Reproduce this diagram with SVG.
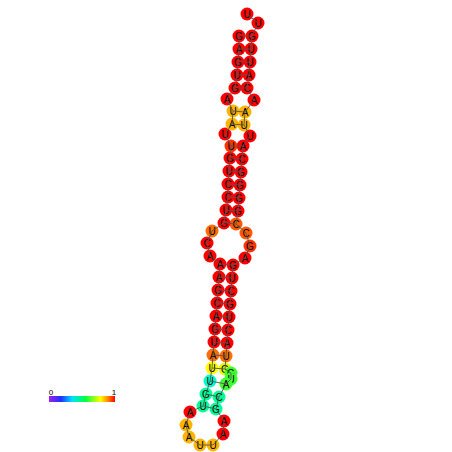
<svg xmlns="http://www.w3.org/2000/svg" width="452" height="452" viewBox="0 0 452 452">
<defs>
<linearGradient id="lg" x1="0" y1="0" x2="1" y2="0">
<stop offset="0" stop-color="#a020f0"/>
<stop offset="0.18" stop-color="#2030ff"/>
<stop offset="0.35" stop-color="#00e0ff"/>
<stop offset="0.55" stop-color="#00ff40"/>
<stop offset="0.78" stop-color="#ffff00"/>
<stop offset="0.9" stop-color="#ff8000"/>
<stop offset="1" stop-color="#ff0000"/>
</linearGradient>
<style>
.n circle{stroke:none}
text{font-family:"Liberation Sans",Arial,sans-serif;font-size:10px;fill:#000;text-anchor:middle;dominant-baseline:central}
.bb line,.bb polyline{stroke:#555;stroke-width:0.9;fill:none}
.r{fill:#ff0000}.o1{fill:#ff3300}.o2{fill:#ff5a00}.o3{fill:#ff6e00}.g{fill:#ffb400}.y{fill:#ffff00}.yg{fill:#e0ff00}.gr{fill:#40ff30}.c1{fill:#00ffcc}.c2{fill:#00ff99}
</style>
</defs>
<rect width="452" height="452" fill="#fff"/>
<g id="nodes">
<g id="n1" class="n"><circle class="r" cx="247" cy="14" r="6.5"/><text x="247" y="14">U</text></g>
<g id="n2" class="n"><circle class="r" cx="258" cy="23" r="6.5"/><text x="258" y="23">U</text></g>
<g id="n3" class="n"><circle class="r" cx="252" cy="36" r="6.5"/><text x="252" y="36">G</text></g>
<g id="n4" class="n"><circle class="r" cx="251" cy="49" r="6.5"/><text x="251" y="49">U</text></g>
<g id="n5" class="n"><circle class="r" cx="250" cy="62" r="6.5"/><text x="250" y="62">U</text></g>
<g id="n6" class="n"><circle class="r" cx="249" cy="75" r="6.5"/><text x="249" y="75">A</text></g>
<g id="n7" class="n"><circle class="r" cx="247" cy="88" r="6.5"/><text x="247" y="88">C</text></g>
<g id="n8" class="n"><circle class="r" cx="254" cy="100" r="6.5"/><text x="254" y="100">A</text></g>
<g id="n9" class="n"><circle class="g" cx="245" cy="112" r="6.5"/><text x="245" y="112">A</text></g>
<g id="n10" class="n"><circle class="g" cx="244" cy="125" r="6.5"/><text x="244" y="125">U</text></g>
<g id="n11" class="n"><circle class="r" cx="250" cy="136" r="6.5"/><text x="250" y="136">U</text></g>
<g id="n12" class="n"><circle class="r" cx="243" cy="146" r="6.5"/><text x="243" y="146">A</text></g>
<g id="n13" class="n"><circle class="r" cx="242" cy="159" r="6.5"/><text x="242" y="159">C</text></g>
<g id="n14" class="n"><circle class="r" cx="241" cy="172" r="6.5"/><text x="241" y="172">G</text></g>
<g id="n15" class="n"><circle class="r" cx="240" cy="185" r="6.5"/><text x="240" y="185">G</text></g>
<g id="n16" class="n"><circle class="r" cx="239" cy="198" r="6.5"/><text x="239" y="198">G</text></g>
<g id="n17" class="n"><circle class="r" cx="238" cy="211" r="6.5"/><text x="238" y="211">G</text></g>
<g id="n18" class="n"><circle class="o2" cx="236" cy="224" r="6.5"/><text x="236" y="224">C</text></g>
<g id="n19" class="n"><circle class="o2" cx="246" cy="233" r="6.5"/><text x="246" y="233">C</text></g>
<g id="n20" class="n"><circle class="o1" cx="250" cy="246" r="6.5"/><text x="250" y="246">G</text></g>
<g id="n21" class="n"><circle class="r" cx="245" cy="258" r="6.5"/><text x="245" y="258">A</text></g>
<g id="n22" class="n"><circle class="r" cx="233" cy="265" r="6.5"/><text x="233" y="265">G</text></g>
<g id="n23" class="n"><circle class="r" cx="232" cy="278" r="6.5"/><text x="232" y="278">U</text></g>
<g id="n24" class="n"><circle class="r" cx="231" cy="291" r="6.5"/><text x="231" y="291">C</text></g>
<g id="n25" class="n"><circle class="r" cx="230" cy="304" r="6.5"/><text x="230" y="304">G</text></g>
<g id="n26" class="n"><circle class="r" cx="229" cy="317" r="6.5"/><text x="229" y="317">U</text></g>
<g id="n27" class="n"><circle class="r" cx="228" cy="330" r="6.5"/><text x="228" y="330">C</text></g>
<g id="n28" class="n"><circle class="r" cx="227" cy="343" r="6.5"/><text x="227" y="343">A</text></g>
<g id="n29" class="n"><circle class="o3" cx="226" cy="356" r="6.5"/><text x="226" y="356">U</text></g>
<g id="n30" class="n"><circle class="yg" cx="225" cy="369" r="6.5"/><text x="225" y="369">G</text></g>
<g id="n31" class="n"><circle class="gr" cx="231" cy="373" r="6.5"/><text x="231" y="373">G</text></g>
<g id="n32" class="n"><circle class="gr" cx="231" cy="379" r="6.5"/><text x="231" y="379">U</text></g>
<g id="n33" class="n"><circle class="gr" cx="226" cy="384" r="6.5"/><text x="226" y="384">A</text></g>
<g id="n34" class="n"><circle class="c2" cx="219" cy="397" r="6.5"/><text x="219" y="397">C</text></g>
<g id="n35" class="n"><circle class="c2" cx="216" cy="409" r="6.5"/><text x="216" y="409">G</text></g>
<g id="n36" class="n"><circle class="r" cx="224" cy="421" r="6.5"/><text x="224" y="421">A</text></g>
<g id="n37" class="n"><circle class="r" cx="223" cy="434" r="6.5"/><text x="223" y="434">A</text></g>
<g id="n38" class="n"><circle class="g" cx="213" cy="445" r="6.5"/><text x="213" y="445">U</text></g>
<g id="n39" class="n"><circle class="g" cx="200" cy="445" r="6.5"/><text x="200" y="445">U</text></g>
<g id="n40" class="n"><circle class="g" cx="189" cy="437" r="6.5"/><text x="189" y="437">A</text></g>
<g id="n41" class="n"><circle class="g" cx="186" cy="425" r="6.5"/><text x="186" y="425">A</text></g>
<g id="n42" class="n"><circle class="r" cx="190" cy="412" r="6.5"/><text x="190" y="412">A</text></g>
<g id="n43" class="n"><circle class="c2" cx="203" cy="406" r="6.5"/><text x="203" y="406">U</text></g>
<g id="n44" class="n"><circle class="c2" cx="206" cy="394" r="6.5"/><text x="206" y="394">G</text></g>
<g id="n45" class="n"><circle class="c1" cx="210" cy="381" r="6.5"/><text x="210" y="381">U</text></g>
<g id="n46" class="n"><circle class="y" cx="212" cy="368" r="6.5"/><text x="212" y="368">U</text></g>
<g id="n47" class="n"><circle class="o3" cx="213" cy="355" r="6.5"/><text x="213" y="355">A</text></g>
<g id="n48" class="n"><circle class="r" cx="214" cy="342" r="6.5"/><text x="214" y="342">U</text></g>
<g id="n49" class="n"><circle class="r" cx="215" cy="329" r="6.5"/><text x="215" y="329">G</text></g>
<g id="n50" class="n"><circle class="r" cx="216" cy="316" r="6.5"/><text x="216" y="316">A</text></g>
<g id="n51" class="n"><circle class="r" cx="217" cy="303" r="6.5"/><text x="217" y="303">C</text></g>
<g id="n52" class="n"><circle class="r" cx="218" cy="290" r="6.5"/><text x="218" y="290">G</text></g>
<g id="n53" class="n"><circle class="r" cx="219" cy="277" r="6.5"/><text x="219" y="277">A</text></g>
<g id="n54" class="n"><circle class="r" cx="220" cy="264" r="6.5"/><text x="220" y="264">A</text></g>
<g id="n55" class="n"><circle class="r" cx="210" cy="256" r="6.5"/><text x="210" y="256">A</text></g>
<g id="n56" class="n"><circle class="r" cx="207" cy="243" r="6.5"/><text x="207" y="243">C</text></g>
<g id="n57" class="n"><circle class="o3" cx="212" cy="231" r="6.5"/><text x="212" y="231">U</text></g>
<g id="n58" class="n"><circle class="r" cx="224" cy="223" r="6.5"/><text x="224" y="223">G</text></g>
<g id="n59" class="n"><circle class="r" cx="226" cy="210" r="6.5"/><text x="226" y="210">U</text></g>
<g id="n60" class="n"><circle class="r" cx="228" cy="197" r="6.5"/><text x="228" y="197">C</text></g>
<g id="n61" class="n"><circle class="r" cx="228" cy="184" r="6.5"/><text x="228" y="184">C</text></g>
<g id="n62" class="n"><circle class="r" cx="229" cy="171" r="6.5"/><text x="229" y="171">U</text></g>
<g id="n63" class="n"><circle class="r" cx="230" cy="158" r="6.5"/><text x="230" y="158">G</text></g>
<g id="n64" class="n"><circle class="o1" cx="231" cy="146" r="6.5"/><text x="231" y="146">U</text></g>
<g id="n65" class="n"><circle class="r" cx="225" cy="134" r="6.5"/><text x="225" y="134">U</text></g>
<g id="n66" class="n"><circle class="g" cx="232" cy="124" r="6.5"/><text x="232" y="124">A</text></g>
<g id="n67" class="n"><circle class="g" cx="233" cy="111" r="6.5"/><text x="233" y="111">U</text></g>
<g id="n68" class="n"><circle class="r" cx="227" cy="99" r="6.5"/><text x="227" y="99">A</text></g>
<g id="n69" class="n"><circle class="r" cx="235" cy="88" r="6.5"/><text x="235" y="88">G</text></g>
<g id="n70" class="n"><circle class="r" cx="237" cy="75" r="6.5"/><text x="237" y="75">U</text></g>
<g id="n71" class="n"><circle class="r" cx="238" cy="62" r="6.5"/><text x="238" y="62">G</text></g>
<g id="n72" class="n"><circle class="r" cx="239" cy="49" r="6.5"/><text x="239" y="49">A</text></g>
<g id="n73" class="n"><circle class="r" cx="239" cy="36" r="6.5"/><text x="239" y="36">G</text></g>
</g>
<g id="connectors" class="bb">
<polyline points="247,14 258,23 252,36 251,49 250,62 249,75 247,88 254,100 245,112 244,125 250,136 243,146 242,159 241,172 240,185 239,198 238,211 236,224 246,233 250,246 245,258 233,265 232,278 231,291 230,304 229,317 228,330 227,343 226,356 225,369 231,373 231,379 226,384 219,397 216,409 224,421 223,434 213,445 200,445 189,437 186,425 190,412 203,406 206,394 210,381 212,368 213,355 214,342 215,329 216,316 217,303 218,290 219,277 220,264 210,256 207,243 212,231 224,223 226,210 228,197 228,184 229,171 230,158 231,146 225,134 232,124 233,111 227,99 235,88 237,75 238,62 239,49 239,36"/>
<line x1="239" y1="36" x2="252" y2="36"/><line x1="239" y1="49" x2="251" y2="49"/><line x1="238" y1="62" x2="250" y2="62"/><line x1="237" y1="75" x2="249" y2="75"/><line x1="235" y1="88" x2="247" y2="88"/>
<line x1="233" y1="111" x2="245" y2="112"/><line x1="232" y1="124" x2="244" y2="125"/>
<line x1="231" y1="146" x2="243" y2="146"/><line x1="230" y1="158" x2="242" y2="159"/><line x1="229" y1="171" x2="241" y2="172"/><line x1="228" y1="184" x2="240" y2="185"/><line x1="228" y1="197" x2="239" y2="198"/><line x1="226" y1="210" x2="238" y2="211"/><line x1="224" y1="223" x2="236" y2="224"/>
<line x1="220" y1="264" x2="233" y2="265"/><line x1="219" y1="277" x2="232" y2="278"/><line x1="218" y1="290" x2="231" y2="291"/><line x1="217" y1="303" x2="230" y2="304"/><line x1="216" y1="316" x2="229" y2="317"/><line x1="215" y1="329" x2="228" y2="330"/><line x1="214" y1="342" x2="227" y2="343"/><line x1="213" y1="355" x2="226" y2="356"/><line x1="212" y1="368" x2="225" y2="369"/><line x1="210" y1="381" x2="226" y2="384"/><line x1="206" y1="394" x2="219" y2="397"/><line x1="203" y1="406" x2="216" y2="409"/>
</g>
<g id="legend">
<rect x="49" y="396" width="66" height="6" fill="url(#lg)"/>
<text x="51" y="392" style="font-size:8px">0</text>
<text x="114" y="392" style="font-size:8px">1</text>
</g>
</svg>
